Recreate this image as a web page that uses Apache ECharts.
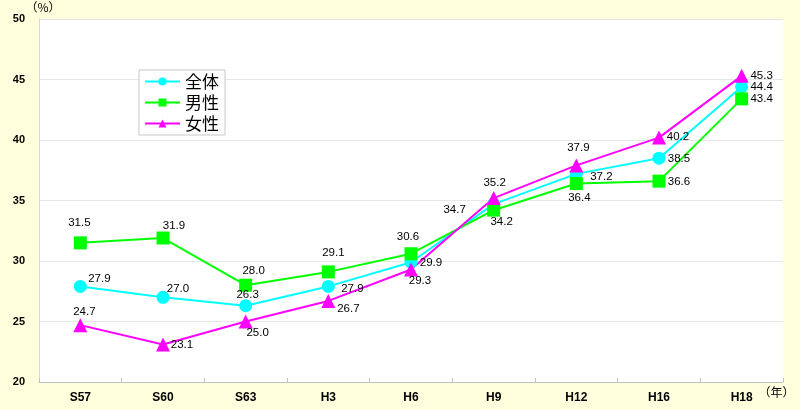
<!DOCTYPE html>
<html><head><meta charset="utf-8">
<script src="https://cdn.jsdelivr.net/npm/echarts@6/dist/echarts.min.js"></script>
<style>html,body{margin:0;padding:0;background:#FFFFDD;} #c{width:800px;height:410px;}</style>
</head><body><div id="c"></div>
<script>
// ---- data ----
const categories = ['S57','S60','S63','H3','H6','H9','H12','H16','H18'];
const seriesNames = ['全体','男性','女性'];
const totalValues = [27.9, 27.0, 26.3, 27.9, 29.9, 34.7, 37.2, 38.5, 44.4];
const maleValues = [31.5, 31.9, 28.0, 29.1, 30.6, 34.2, 36.4, 36.6, 43.4];
const femaleValues = [24.7, 23.1, 25.0, 26.7, 29.3, 35.2, 37.9, 40.2, 45.3];
const yMin = 20, yMax = 50, yInterval = 5;
const yUnit = '（%）';
const xUnit = '（年）';

// ---- label placement (style only) ----
const totalOffsets = [[19,-8],[15,-8],[2,-11],[24,2],[20,1],[-39,6],[25,3],[20,1],[20,0]];
const maleOffsets = [[-1,-20],[11,-12],[8,-14],[5,-19],[-3,-17],[8,12],[3,14],[20,1],[20,0]];
const femaleOffsets = [[4,-13],[19,0],[12,11],[20,8],[9,11],[1,-15],[2,-18],[19,-1],[20,0]];

function mk(name, values, offsets, color, symbol, size) {
  return {
    name: name, type: 'line',
    data: values.map((v, i) => ({ value: v, label: { offset: offsets[i] } })),
    symbol: symbol, symbolSize: size,
    itemStyle: { color: color },
    lineStyle: { color: color, width: 2 },
    label: {
      show: true, position: 'inside', color: '#000', fontSize: 11.5,
      fontFamily: 'Liberation Sans, Arial, sans-serif',
      formatter: p => Number(p.value).toFixed(1)
    },
    emphasis: { disabled: true },
    z: 2
  };
}

const chart = echarts.init(document.getElementById('c'), null, { renderer: 'canvas' });
chart.setOption({
  animation: false,
  backgroundColor: '#FFFFDD',
  grid: { left: 39, right: 17, top: 19, bottom: 28, show: true, backgroundColor: '#ffffff', borderWidth: 0 },
  legend: {
    orient: 'vertical', left: 139, top: 70,
    padding: [3, 6, 3, 5], itemGap: 4, itemWidth: 35, itemHeight: 10,
    backgroundColor: '#ffffff', borderColor: '#C8C8C8', borderWidth: 1,
    textStyle: { fontSize: 17, fontFamily: 'Noto Sans CJK JP', color: '#000' },
    data: seriesNames
  },
  xAxis: {
    type: 'category', data: categories, boundaryGap: true,
    name: xUnit, nameLocation: 'end', nameGap: -30,
    nameTextStyle: { fontSize: 12, color: '#000', fontFamily: 'Noto Sans CJK JP', verticalAlign: 'top', padding: [4, 0, 0, 0] },
    axisLine: { lineStyle: { color: '#C0C0C0', width: 1 } },
    axisTick: { show: true, inside: true, length: 4, lineStyle: { color: '#C0C0C0' } },
    axisLabel: { color: '#000', fontWeight: 'bold', fontSize: 12, margin: 10, fontFamily: 'Liberation Sans, Arial, sans-serif' },
    splitLine: { show: false }
  },
  yAxis: {
    type: 'value', min: yMin, max: yMax, interval: yInterval,
    name: yUnit, nameLocation: 'end', nameGap: 0,
    nameTextStyle: { fontSize: 12, color: '#000', fontFamily: 'Noto Sans CJK JP', align: 'center', padding: [0, 0, 0, 8] },
    axisLine: { show: true, lineStyle: { color: '#D8D8D8', width: 1 } },
    axisTick: { show: false },
    axisLabel: { color: '#000', fontWeight: 'bold', fontSize: 11, margin: 14, fontFamily: 'Liberation Sans, Arial, sans-serif' },
    splitLine: { show: true, lineStyle: { color: '#E6E6E6', width: 1 } }
  },
  series: [
    mk(seriesNames[0], totalValues, totalOffsets, '#00FFFF', 'circle', 13),
    mk(seriesNames[1], maleValues, maleOffsets, '#00FF00', 'rect', 13),
    mk(seriesNames[2], femaleValues, femaleOffsets, '#FF00FF', 'triangle', 14)
  ]
});
</script></body></html>
